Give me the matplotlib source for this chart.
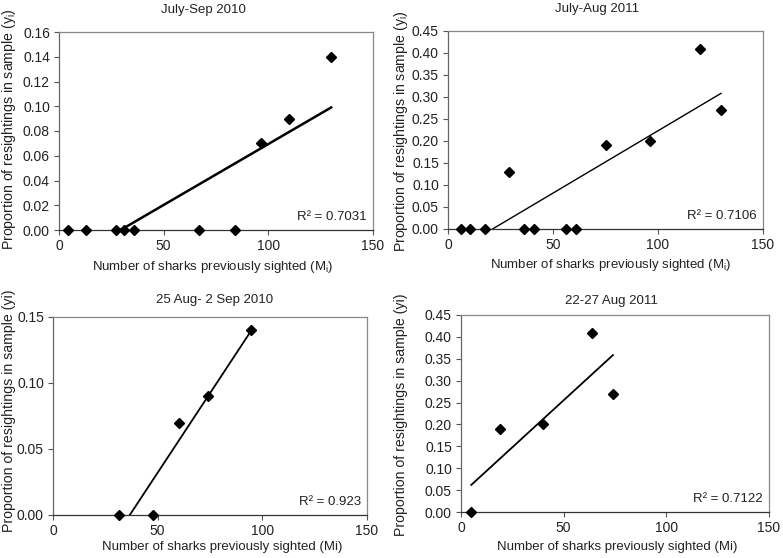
import numpy as np
import matplotlib
matplotlib.use("Agg")
import matplotlib.pyplot as plt

plt.rcParams['font.family'] = ['Liberation Sans', 'DejaVu Sans']

# July-Sep 2010
m1 = [4.5, 13, 27, 31, 36, 67, 84, 96.5, 110, 130]
y1 = [0, 0, 0, 0, 0, 0, 0, 0.07, 0.09, 0.14]
# July-Aug 2011
m2 = [6, 10.5, 17.5, 29, 36, 41, 56, 61, 75, 96, 120, 130]
y2 = [0, 0, 0, 0.13, 0, 0, 0, 0, 0.19, 0.20, 0.41, 0.27]
# 25 Aug- 2 Sep 2010
m3 = [31.5, 48, 60, 74, 94.5]
y3 = [0, 0, 0.07, 0.09, 0.14]
# 22-27 Aug 2011
m4 = [5, 19, 40, 64, 74]
y4 = [0, 0.19, 0.20, 0.41, 0.27]

titles = ["July-Sep 2010", "July-Aug 2011", "25 Aug- 2 Sep 2010", "22-27 Aug 2011"]
r2_labels = ["R² = 0.7031", "R² = 0.7106", "R² = 0.923", "R² = 0.7122"]
xlabels = ["Number of sharks previously sighted (M$_\\mathregular{i}$)",
           "Number of sharks previously sighted (M$_\\mathregular{i}$)",
           "Number of sharks previously sighted (Mi)",
           "Number of sharks previously sighted (Mi)"]
ylabels = ["Proportion of resightings in sample (y$_\\mathregular{i}$)",
           "Proportion of resightings in sample (y$_\\mathregular{i}$)",
           "Proportion of resightings in sample (yi)",
           "Proportion of resightings in sample (yi)"]
xticks = [0, 50, 100, 150]
yticks = [np.arange(0, 0.161, 0.02), np.arange(0, 0.451, 0.05),
          np.arange(0, 0.151, 0.05), np.arange(0, 0.451, 0.05)]

W, H = 783, 558
fig = plt.figure(figsize=(W / 100, H / 100), dpi=100)

# axes boxes in pixels: left, top, right, bottom
boxes = [(59, 32, 373, 230), (448, 31, 763, 229),
         (53, 317, 367, 515), (461, 315, 769, 512)]
title_pos = [(203, 10), (597, 9), (215, 300), (611, 301)]
xlab_pos = [(213, 267), (611, 265), (222, 547), (617, 547)]
ylab_pos = [(9, 129), (401, 131), (9, 411), (401, 415)]
line_w = [1.8, 1.0, 1.3, 1.3]

data = [(m1, y1), (m2, y2), (m3, y3), (m4, y4)]

for i, (mx, my) in enumerate(data):
    l, t, r, b = boxes[i]
    ax = fig.add_axes([l / W, 1 - b / H, (r - l) / W, (b - t) / H])
    mx = np.array(mx, float)
    my = np.array(my, float)
    ax.plot(mx, my, 'D', color='black', ms=5.3, clip_on=False, zorder=3)
    k, c = np.polyfit(mx, my, 1)
    xs = np.array([mx.min(), mx.max()])
    ax.plot(xs, k * xs + c, color='black', lw=line_w[i], zorder=2)
    ax.set_xlim(0, 150)
    ax.set_ylim(yticks[i][0], yticks[i][-1])
    ax.set_xticks(xticks)
    ax.set_yticks(yticks[i])
    ax.set_yticklabels(["%.2f" % v for v in yticks[i]])
    ax.tick_params(direction='out', length=3.5, width=0.8, colors='#555555',
                   labelcolor='#222222', labelsize=10, pad=3)
    for s in ['top', 'right']:
        ax.spines[s].set_color('#888888')
    ax.spines['left'].set_color('#666666')
    ax.spines['bottom'].set_color('#333333')
    for s in ax.spines.values():
        s.set_linewidth(0.9)
    ax.text(0.98, 0.065, r2_labels[i], transform=ax.transAxes, ha='right',
            va='center', fontsize=9.5, color='#222222')

    fig.text(title_pos[i][0] / W, 1 - title_pos[i][1] / H, titles[i],
             ha='center', va='center', fontsize=9.5, color='#222222')
    fig.text(xlab_pos[i][0] / W, 1 - xlab_pos[i][1] / H, xlabels[i],
             ha='center', va='center', fontsize=9.5, color='#222222')
    fig.text(ylab_pos[i][0] / W, 1 - ylab_pos[i][1] / H, ylabels[i],
             ha='center', va='center', rotation=90, fontsize=10.2, color='#222222')

fig.savefig("out.png", dpi=100)
